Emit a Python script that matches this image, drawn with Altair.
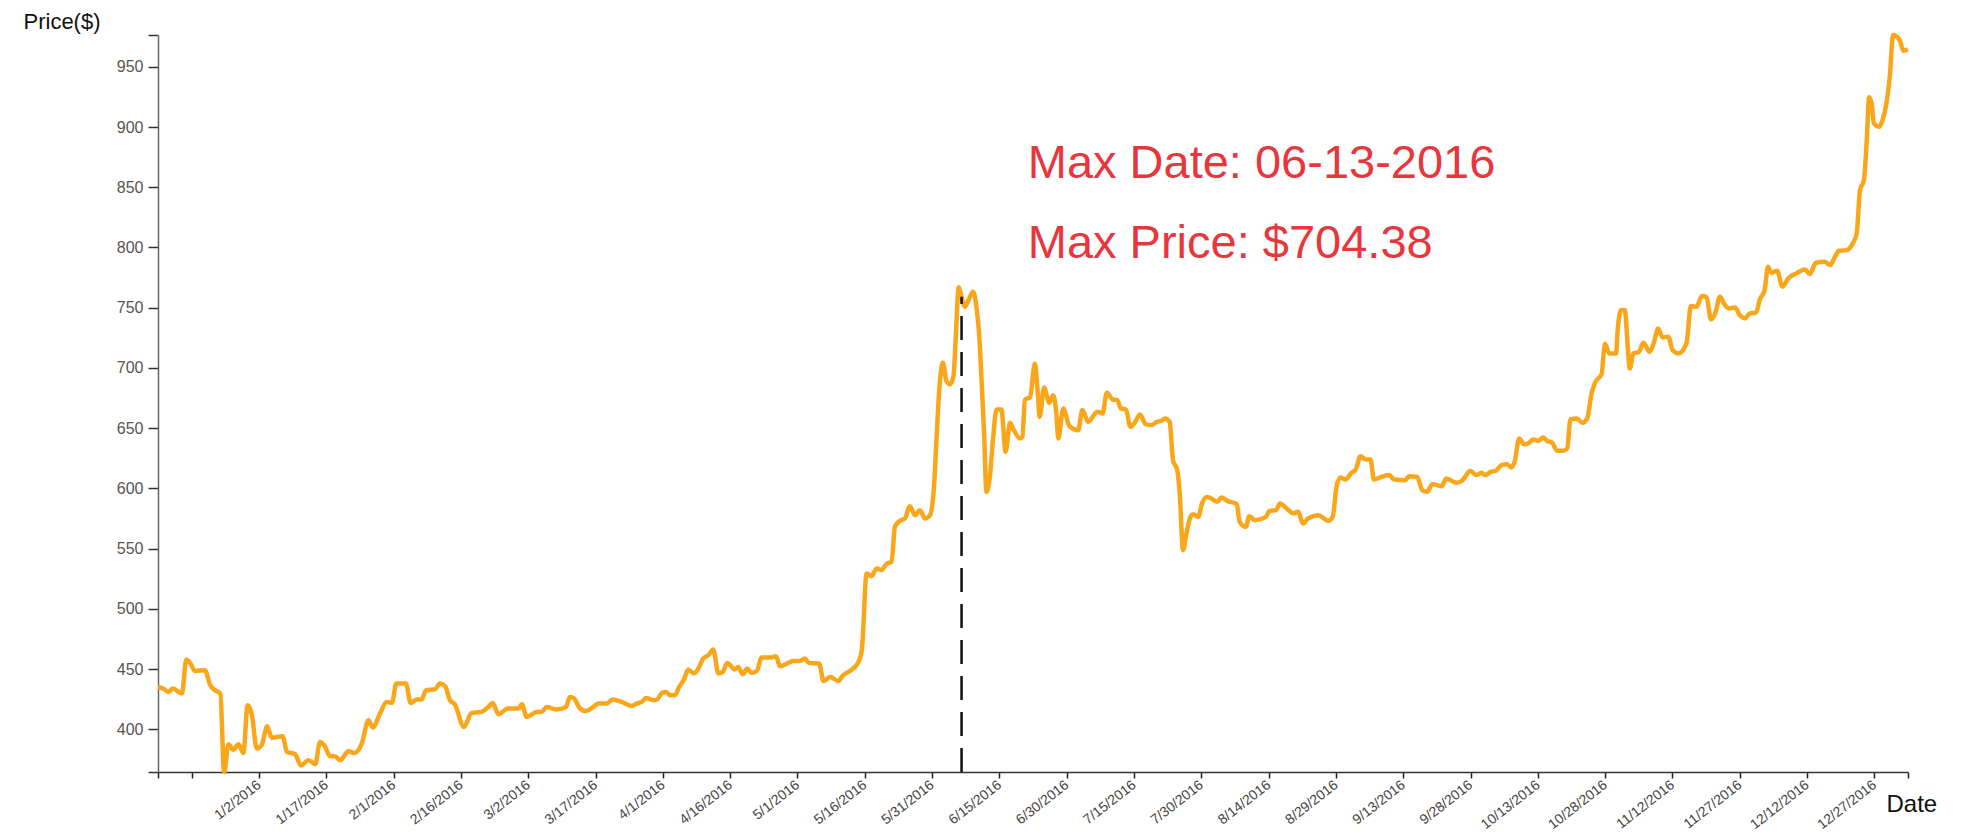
import json
import altair as alt
import pandas as pd

# ---- data (day of year 2016, price in $) ----
days = [
    0, 1.1, 2.2, 3.1, 5, 5.9, 6.7, 7.7, 9.8, 10.9, 11.9, 13, 13.8, 14.7, 15.7, 16.8, 17.8, 18.7, 19.6,
    20.6, 21.6, 22.8, 23.7, 26, 26.9, 28.6, 29.8, 31.4, 32.8, 33.8, 34.8, 35.9, 36.9, 38, 39.7, 40.9,
    42.5, 43.9, 44.8, 46.3, 47.7, 48.8, 49.7, 51.7, 52.7, 54, 55, 55.9, 57.8, 58.8,
    59.9, 60.9, 61.9, 63.8, 65.4, 67.5, 68.9, 69.8, 71, 73, 75.2, 75.9, 76.9, 79, 80, 81.1, 83, 85.1,
    85.9, 86.8, 88, 89.1, 90.8, 91.8, 93.6, 94.8, 96.7, 98.8, 99.8, 100.9, 101.8, 103.3, 104.1, 105.1,
    106, 106.8, 107.8, 108.7, 109.7, 110.6, 111.8, 112.7, 113.7, 114.8, 115.8, 116.9, 117.8, 118.7,
    120.3, 121, 122, 122.9, 123.8, 124.9, 125.9, 128, 128.9, 129.7, 131.5, 132.5, 133.9, 134.9, 135.8,
    137.9, 138.8, 140.2, 141.9, 142.9, 144.3, 146, 146.8, 147.8, 148.8, 149.9, 150.9, 152, 153, 153.7,
    154.7, 155.8, 156.8, 157.9, 158.9, 160, 161, 161.8, 162.4, 162.9, 163.7, 164.5, 165.2, 165.9, 166.4,
    167, 167.6, 168.3, 169.2, 170, 170.7, 171.3, 171.8, 172.3, 172.8, 173.5, 174.2, 174.9, 175.9, 176.8,
    177.7, 178.5, 179.8,
    180.3, 180.8, 181.9, 182.9, 183.4, 183.9, 184.8, 185.9, 186.7, 187.3, 187.8, 188.8, 190.1, 191.9,
    192.8, 194, 195.9, 197, 197.9, 199.1, 200.1, 200.8, 201.9, 202.8, 203.7, 204.8, 206, 207.2, 208.3,
    209.3, 210, 211, 211.7, 212.6, 213.1, 213.8, 214.5, 215.4, 215.9, 217, 217.7, 218.8, 220, 220.9,
    221.8, 223, 225, 225.6, 226.9, 227.6, 228.8, 231.1, 231.8, 233.2, 234, 235.4, 236.8, 237.8, 238.8,
    239.9,
    242, 244.1, 245, 245.8, 246.6, 247.7, 248.9, 249.8, 250.8, 251.9, 252.9, 253.6, 255.2, 256.8, 257.8,
    260.1, 261, 262.6, 263.7, 264.7, 265.8, 267.7, 268.7, 270.8, 272.1, 273.7, 275, 276, 276.9, 277.9,
    279, 280.2, 281.3, 282.3, 283, 283.9, 284.9, 285.8, 286.8, 287.9, 288.9, 289.7, 290.8, 291.8, 293,
    293.9, 294.6, 295.9, 297.1, 298.1, 299, 299.7,
    301.1, 301.8, 302.7, 304.1, 304.5, 305.2, 305.9, 307, 307.7, 308.9, 309.8, 311.1, 312, 312.9, 313.8,
    315, 315.9, 317.1, 318.8, 319.7, 320.9, 322, 323, 323.9, 324.8, 325.8, 326.8, 327.8, 328.9, 329.9,
    331, 332, 333.3, 334.1, 335.1, 335.8, 336.5, 337.7, 338.8, 340, 341.7, 343.5, 344.5, 345.8, 347.6,
    348.8, 349.7, 350.6, 352.2, 353.4, 354.3, 355, 355.8, 356.4, 356.9, 357.4, 357.9, 359, 359.7, 360.5,
    361.2, 361.9, 362.7, 363.4, 364, 365,
]
prices = [
    435.1, 433.8, 431, 433.8, 429.7, 458, 455, 448.4, 449, 436.5, 432.4, 429.7, 364.5, 387.5, 383, 387.5,
    380.3, 420, 411.6, 384, 386.7, 402.5, 393, 394.2, 381.2, 379.2, 370, 374.3, 371, 389.5, 385.9, 377.6,
    377.6, 374.3, 381.7, 380.3, 388.1, 407.5, 401.4, 413, 422.7, 421.8, 438, 438, 421.8, 424.7, 424.7,
    432.4, 433.2, 438,
    435.7, 424.1, 420.8, 401.9, 413.5, 414.4, 418.5, 421.8, 412.5, 417.2, 417.2, 420.8, 410.2, 414.4,
    414.4, 418.5, 416.4, 418.5, 426.8, 425.5, 417.2, 415.2, 418.5, 421.3, 421.3, 424.7, 422.7, 419.4,
    421.3, 422.7, 426, 424.1, 424.7, 430.1, 431, 428.2, 428.2, 435.1, 441.3, 449.6, 446.3, 450.4, 458.7,
    461.5, 466.2, 446.3, 447.6, 455.1,
    449.6, 451.7, 445.7, 450.4, 446.8, 448.4, 459.6, 459.6, 460.6, 452.3, 455.1, 456.7, 456.7, 458.7,
    455.1, 454.6, 440.1, 443.4, 440.1, 444.9, 448.4, 455.1, 465.6, 529.3, 527.1, 533.5, 532.1, 537.6,
    538.9, 568, 573, 575, 585.2, 577.7, 581.9, 575, 577.7, 598.5, 642.8, 678.8, 704.2, 688.5, 686.5,
    692.6, 725.8, 766.9, 759.1, 750.8, 757.8, 763.2, 750.8, 725.8, 687.1, 645.6, 597.1, 609.6, 642.8,
    665.5, 665.5, 630.3, 654.4, 648.3, 641.4,
    642.8, 673.3, 676, 703.7, 684.3, 659.4, 683.8, 671, 677.4, 665, 641.4, 666.4, 651.7, 648.3, 665,
    655.2, 663.5, 662.2, 679.3, 673.8, 673.3, 666.4, 665.5, 651.1, 654.4, 661.4, 653.3, 652.5, 655.2,
    656.1, 658.1, 655.2, 623.4, 615.1, 595.8, 548.7, 562.5, 576.9, 578.6, 576.3, 586.9, 592.9, 590.8,
    588.8, 592.4, 589.6, 586.9, 572.2, 568, 576.9, 573.6, 576.3, 581.3, 581.9, 587.5, 583.3, 579.2,
    580.5, 570.8, 575,
    577.7, 573, 576.3, 601.2, 609, 607.4, 612.9, 615.7, 626.7, 624, 624, 607.4, 609.6, 611, 607.4, 606.8,
    610.1, 609.6, 598.5, 597.1, 603.5, 601.8, 608.2, 604.6, 606.8, 614.5, 611, 612.9, 611, 613.7, 614.5,
    619.3, 620.1, 617.4, 622.9, 641.4, 636.7, 637.3, 640.6, 639.4, 642.3, 639.4, 637.8, 631.2, 631.2,
    633.1, 657.2, 658.1, 654.4, 658.1, 678.8, 687.6,
    695, 720, 712, 712, 734.1, 748, 748, 699.6, 712, 713.4, 720.9, 713.4, 720.9, 732.8, 725.3, 725.8,
    714.8, 712, 720.4, 751.3, 750.8, 759.6, 758.6, 740.3, 745.3, 759.1, 752.2, 749.4, 750.2, 743.9, 741.1,
    745.3, 745.8, 756.9, 764.6, 784, 779, 780.7, 767.4, 774.3, 778.5, 781.8, 777.9, 787.3, 788.1, 785.4,
    791.8, 797.3, 797.8, 802.8, 811.7, 847.7, 856, 889.2, 924.7, 919.7, 903.1, 900.3, 905.8, 919.7, 941.8,
    976.4, 975, 970.9, 963.4, 964.5,
]

x_labels = [
    " ", "1/2/2016", "1/17/2016", "2/1/2016", "2/16/2016", "3/2/2016", "3/17/2016", "4/1/2016",
    "4/16/2016", "5/1/2016", "5/16/2016", "5/31/2016", "6/15/2016", "6/30/2016", "7/15/2016",
    "7/30/2016", "8/14/2016", "8/29/2016", "9/13/2016", "9/28/2016", "10/13/2016", "10/28/2016",
    "11/12/2016", "11/27/2016", "12/12/2016", "12/27/2016",
]
y_ticks = [400, 450, 500, 550, 600, 650, 700, 750, 800, 850, 900, 950]

marker_day = [167.6]
marker_price = [759.1]

note_text = ["Max Date: 06-13-2016", "Max Price: $704.38"]
note_day = [181.4, 181.4]
note_price = [857.4, 791.0]

# ---- chart ----
ymin, ymax = min(prices), max(prices)
day_max = 365
n = len(x_labels)

line_df = pd.DataFrame({"day": days, "price": prices})
rule_df = pd.DataFrame({"day": marker_day, "price": [ymin], "hi": marker_price})
note_df = pd.DataFrame({"day": note_day, "price": note_price, "text": note_text})

x_scale = alt.Scale(domain=[0, day_max], nice=False, zero=False)
y_scale = alt.Scale(domain=[ymin, ymax], nice=False, zero=False)

x_tick_vals = [0] + [(k + 0.5) * day_max / n for k in range(n)] + [day_max]
x_label_expr = (
    f"datum.value <= 0 || datum.value >= {day_max} ? '' : "
    f"{json.dumps(x_labels)}[round(datum.value * {n} / {day_max} - 0.5)]"
)

x_axis = alt.Axis(
    values=x_tick_vals, labelExpr=x_label_expr, labelAngle=-38, labelAlign="right",
    labelBaseline="middle", labelPadding=5, labelOverlap=False, labelFlush=False,
    tickSize=6, tickWidth=1.5, tickColor="#222", domainColor="#333", domainWidth=1.5,
    labelFont="Liberation Sans", labelFontSize=14, labelColor="#444", grid=False,
    title="Date", titleX=1728, titleY=39, titleAlign="left", titleBaseline="alphabetic",
    titleAngle=0, titleFont="Liberation Sans", titleFontSize=24, titleFontWeight="normal",
    titleColor="#111",
)
y_axis = alt.Axis(
    values=[ymin] + y_ticks + [ymax], labelExpr="datum.value % 50 == 0 ? datum.label : ''",
    tickSize=10, tickWidth=1.5, tickColor="#333", domainColor="#666", domainWidth=1.5,
    labelFont="Liberation Sans", labelFontSize=16, labelColor="#555", labelPadding=5,
    grid=False, title="Price($)", titleX=-135, titleY=-7, titleAlign="left",
    titleBaseline="alphabetic", titleAngle=0, titleFont="Liberation Sans", titleFontSize=22,
    titleFontWeight="normal", titleColor="#111",
)

X = alt.X("day:Q", scale=x_scale, axis=x_axis)
Y = alt.Y("price:Q", scale=y_scale, axis=y_axis)

line = alt.Chart(line_df).mark_line(
    color="#FAA61A", strokeWidth=4.5, interpolate="monotone"
).encode(x=X, y=Y)

rule = alt.Chart(rule_df).mark_rule(
    color="#111", strokeWidth=2.5, strokeDash=[24, 12]
).encode(x=X, y=Y, y2="hi:Q")

note = alt.Chart(note_df).mark_text(
    align="left", baseline="alphabetic", font="Liberation Sans", fontSize=47,
    color="#E8363D",
).encode(x=X, y=Y, text="text:N")

chart = alt.layer(line, rule, note).properties(
    width=1750, height=737,
    padding={"left": 150, "top": 27, "right": 60, "bottom": 59},
    autosize=alt.AutoSizeParams(type="none"),
    background="white",
).configure_view(stroke=None)

chart.save("out.html", embed_options={"renderer": "svg", "actions": False})
